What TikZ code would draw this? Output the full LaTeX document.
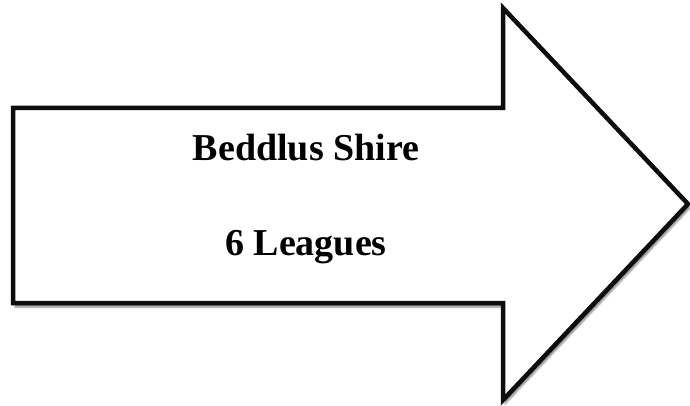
\documentclass[tikz,border=0pt]{standalone}
\usepackage{fontspec}
\setmainfont{Liberation Serif}
\usetikzlibrary{shadows.blur}
\tikzset{
  every picture/.style={x=1pt, y=1pt},
  signarrow/.style={draw=black!95, line width=4.5pt, fill=white, line join=miter,
    blur shadow={shadow xshift=2pt, shadow yshift=-4pt, shadow blur steps=6, shadow opacity=50}},
  signtext/.style={font=\fontsize{38}{44}\selectfont\bfseries, inner sep=0pt, anchor=base},
}
\begin{document}
\begin{tikzpicture}
  \useasboundingbox (0,0) rectangle (690,405);
  % the sign
  \draw[signarrow] (13,297) -- (503,297) -- (503,397) -- (688,201)
    -- (503,5) -- (503,102) -- (13,102) -- cycle;
  \node[signtext] (place) at (306,245) {Beddlus Shire};
  \node[signtext] (dist) at (306,150) {6 Leagues};
\end{tikzpicture}
\end{document}
